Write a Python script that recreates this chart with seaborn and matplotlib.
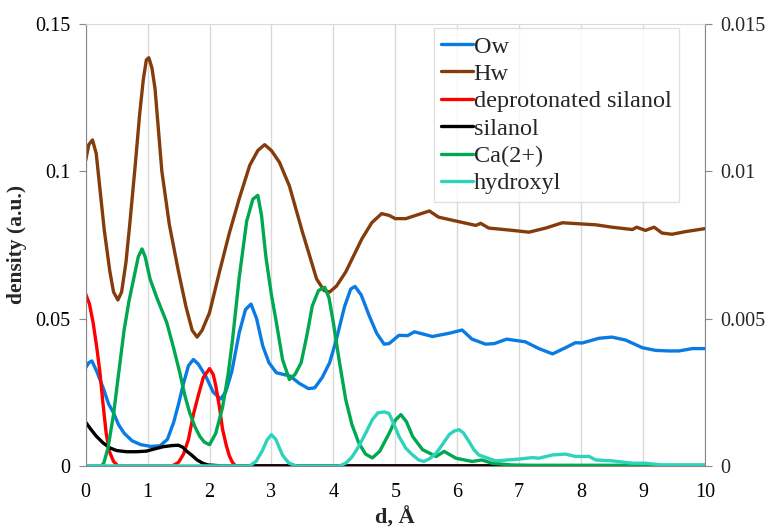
import numpy as np
import pandas as pd
import seaborn as sns
import matplotlib.pyplot as plt

sns.set_style("white")
plt.rcParams['font.family'] = ['Liberation Serif', 'DejaVu Serif']

# ---- data ----
ow_x = [0, 0.05, 0.1, 0.18, 0.29, 0.37, 0.45, 0.53, 0.62, 0.75, 0.89, 1.05, 1.2, 1.32, 1.42, 1.5,
        1.58, 1.66, 1.74, 1.82, 1.94, 2.06, 2.18, 2.26, 2.36, 2.48, 2.58, 2.67, 2.76, 2.86, 2.96,
        3.08, 3.2, 3.3, 3.45, 3.6, 3.7, 3.82, 3.94, 4.05, 4.18, 4.28, 4.35, 4.45, 4.58, 4.7, 4.82,
        4.9, 5.06, 5.2, 5.31, 5.6, 5.87, 6.08, 6.24, 6.46, 6.6, 6.8, 7.1, 7.32, 7.54, 7.75, 7.91,
        8.02, 8.29, 8.5, 8.72, 8.99, 9.2, 9.42, 9.58, 9.8, 10]
ow_y = [0.0333, 0.035, 0.0356, 0.032, 0.026, 0.021, 0.018, 0.014, 0.0111, 0.0085, 0.0072, 0.0066,
        0.0068, 0.009, 0.0147, 0.021, 0.028, 0.034, 0.0361, 0.0345, 0.0304, 0.025, 0.0227, 0.025,
        0.032, 0.0452, 0.053, 0.0549, 0.05, 0.0407, 0.035, 0.0316, 0.031, 0.0305, 0.028, 0.0262,
        0.0265, 0.03, 0.035, 0.043, 0.054, 0.06, 0.0609, 0.058, 0.0509, 0.045, 0.0413, 0.0415,
        0.0443, 0.0442, 0.0455, 0.0439, 0.045, 0.0461, 0.043, 0.0413, 0.0415, 0.043, 0.0421,
        0.0398, 0.038, 0.0401, 0.0418, 0.0417, 0.0433, 0.0437, 0.0427, 0.0401, 0.0392, 0.039,
        0.039, 0.0398, 0.0398]

hw_x = [0, 0.05, 0.11, 0.17, 0.23, 0.3, 0.39, 0.45, 0.52, 0.58, 0.65, 0.71, 0.8, 0.87, 0.93, 0.98,
        1.02, 1.07, 1.12, 1.23, 1.35, 1.5, 1.62, 1.72, 1.8, 1.88, 2.0, 2.16, 2.32, 2.48, 2.65, 2.78,
        2.89, 3.0, 3.13, 3.29, 3.5, 3.73, 3.85, 3.94, 4.05, 4.2, 4.46, 4.62, 4.78, 4.9, 5.0, 5.17,
        5.55, 5.7, 6.0, 6.3, 6.38, 6.51, 6.9, 7.16, 7.43, 7.7, 8.24, 8.5, 8.83, 8.9, 9.04, 9.18,
        9.31, 9.47, 9.69, 10]
hw_y = [0.1037, 0.109, 0.1106, 0.106, 0.094, 0.08, 0.066, 0.059, 0.0563, 0.059, 0.069, 0.0816,
        0.102, 0.119, 0.131, 0.1378, 0.1385, 0.135, 0.128, 0.1, 0.082, 0.0658, 0.054, 0.046,
        0.0437, 0.046, 0.052, 0.0658, 0.079, 0.0907, 0.102, 0.107, 0.109, 0.107, 0.103, 0.095,
        0.0794, 0.0634, 0.0595, 0.059, 0.061, 0.0658, 0.077, 0.0825, 0.0856, 0.085, 0.0839,
        0.0839, 0.0865, 0.0844, 0.083, 0.0816, 0.0823, 0.0807, 0.0799, 0.0793, 0.0807, 0.0825,
        0.0818, 0.081, 0.0802, 0.081, 0.0799, 0.081, 0.079, 0.0786, 0.0795, 0.0805]

dep_x = [0, 0.06, 0.12, 0.18, 0.23, 0.28, 0.33, 0.38, 0.45, 0.52, 1.4, 1.5, 1.58, 1.66, 1.74,
         1.82, 1.9, 2.0, 2.06, 2.1, 2.16, 2.21, 2.27, 2.32, 2.37, 2.42, 10]
dep_y = [0.0583, 0.055, 0.0486, 0.04, 0.0317, 0.021, 0.0112, 0.005, 0.0015, 0, 0, 0.0012, 0.004,
         0.009, 0.0175, 0.024, 0.03, 0.033, 0.031, 0.0273, 0.02, 0.0125, 0.007, 0.0034, 0.0012,
         0, 0]

sil_x = [0, 0.08, 0.17, 0.28, 0.39, 0.5, 0.66, 0.82, 0.98, 1.12, 1.25, 1.4, 1.5, 1.57, 1.63,
         1.72, 1.8, 1.9, 1.98, 2.2, 10]
sil_y = [0.0148, 0.0125, 0.0101, 0.0078, 0.0061, 0.0052, 0.0048, 0.0048, 0.005, 0.0058, 0.0065,
         0.0069, 0.007, 0.0063, 0.005, 0.0035, 0.002, 0.0008, 0.0003, 0, 0]

ca_x = [0, 0.25, 0.29, 0.36, 0.45, 0.53, 0.62, 0.7, 0.78, 0.85, 0.91, 0.96, 1.04, 1.15, 1.31,
        1.42, 1.52, 1.6, 1.68, 1.76, 1.84, 1.92, 2.0, 2.1, 2.21, 2.3, 2.37, 2.48, 2.6, 2.7, 2.78,
        2.84, 2.91, 3.0, 3.08, 3.18, 3.29, 3.38, 3.48, 3.57, 3.66, 3.76, 3.86, 3.93, 4.0, 4.1,
        4.2, 4.3, 4.41, 4.52, 4.63, 4.75, 4.9, 5.0, 5.09, 5.18, 5.28, 5.44, 5.66, 5.79, 5.98,
        6.24, 6.4, 6.56, 6.88, 7.2, 10]
ca_y = [0, 0, 0.0008, 0.006, 0.0175, 0.031, 0.046, 0.056, 0.064, 0.071, 0.0736, 0.071, 0.0634,
        0.057, 0.0486, 0.04, 0.0316, 0.024, 0.018, 0.0135, 0.0101, 0.008, 0.0072, 0.011, 0.0198,
        0.031, 0.0425, 0.064, 0.083, 0.0905, 0.0918, 0.085, 0.071, 0.058, 0.0486, 0.036, 0.0293,
        0.031, 0.035, 0.044, 0.0543, 0.0595, 0.0606, 0.057, 0.0486, 0.035, 0.0225, 0.014,
        0.0078, 0.004, 0.0027, 0.005, 0.011, 0.0155, 0.0174, 0.015, 0.01, 0.0055, 0.0032,
        0.0049, 0.0026, 0.0015, 0.002, 0.0009, 0.0003, 0.0002, 0.0002]

oh_x = [0, 2.65, 2.75, 2.85, 2.93, 3.0, 3.07, 3.18, 3.28, 3.4, 4.1, 4.2, 4.3, 4.41, 4.52, 4.63,
        4.72, 4.82, 4.9, 4.98, 5.06, 5.17, 5.28, 5.38, 5.46, 5.56, 5.66, 5.77, 5.87, 5.95, 6.03,
        6.1, 6.19, 6.27, 6.35, 6.62, 7.0, 7.21, 7.32, 7.54, 7.75, 7.91, 8.13, 8.24, 8.5, 8.83,
        9.04, 9.31, 10]
oh_y = [0, 0, 0.0015, 0.005, 0.0088, 0.0106, 0.009, 0.0036, 0.001, 0, 0, 0.0009, 0.003, 0.0066,
        0.011, 0.0157, 0.018, 0.0183, 0.0178, 0.014, 0.01, 0.006, 0.0037, 0.002, 0.0015, 0.0025,
        0.0043, 0.0075, 0.0106, 0.0118, 0.0123, 0.0112, 0.0083, 0.0055, 0.0037, 0.0017, 0.0023,
        0.0028, 0.0026, 0.0037, 0.004, 0.0032, 0.0032, 0.002, 0.0017, 0.0009, 0.0009, 0.0003,
        0.0003]

series = [("Ow", ow_x, ow_y, "#0A7BE3"),
          ("Hw", hw_x, hw_y, "#843C0C"),
          ("deprotonated silanol", dep_x, dep_y, "#FF0000"),
          ("silanol", sil_x, sil_y, "#000000"),
          ("Ca(2+)", ca_x, ca_y, "#00A84F"),
          ("hydroxyl", oh_x, oh_y, "#2ED3BC")]

fig = plt.figure(figsize=(7.72, 5.30), dpi=100)
ax = fig.add_axes([0.111, 0.121, 0.802, 0.834])

for name, xs, ys, col in series:
    df = pd.DataFrame({'d': xs, 'density': ys})
    sns.lineplot(data=df, x='d', y='density', ax=ax, color=col, lw=2.4, label=name, sort=False)

ax.set_xlim(0, 10)
ax.set_ylim(0, 0.15)
ax.set_xticks(range(0, 11))
ax.set_yticks([0, 0.05, 0.1, 0.15])
ax.set_yticklabels(["0", "0.05", "0.1", "0.15"])
ax.xaxis.grid(True, color="#d9d9d9", lw=1)
ax.yaxis.grid(False)
ax.tick_params(axis='both', labelsize=14.5, colors='black')
ax.tick_params(axis='y', direction='out', length=5, color='#888888', left=True, pad=6)
ax.tick_params(axis='x', length=0, pad=12)
ax.set_xlabel("d, Å", fontsize=16, fontweight='bold', labelpad=4)
ax.set_ylabel("density (a.u.)", fontsize=15.5, fontweight='bold', labelpad=6)
for s in ['left', 'bottom', 'right']:
    ax.spines[s].set_color('#888888')
ax.spines['top'].set_color('#d9d9d9')

ax2 = ax.twinx()
ax2.set_ylim(0, 0.015)
ax2.set_yticks([0, 0.005, 0.01, 0.015])
ax2.set_yticklabels(["0", "0.005", "0.01", "0.015"])
ax2.tick_params(axis='y', direction='out', length=5, color='#888888', labelsize=14.5,
                right=True, pad=6)
ax2.grid(False)
for s in ax2.spines.values():
    s.set_visible(False)

leg = ax.legend(loc='upper left', bbox_to_anchor=(0.562, 0.99), fontsize=17.5,
                frameon=True, fancybox=False, edgecolor='#d9d9d9', handlelength=1.3,
                handletextpad=0.05, labelspacing=0.22, borderpad=0.3, borderaxespad=0)
leg.get_frame().set_linewidth(1)

fig.savefig("out.png", dpi=100)
